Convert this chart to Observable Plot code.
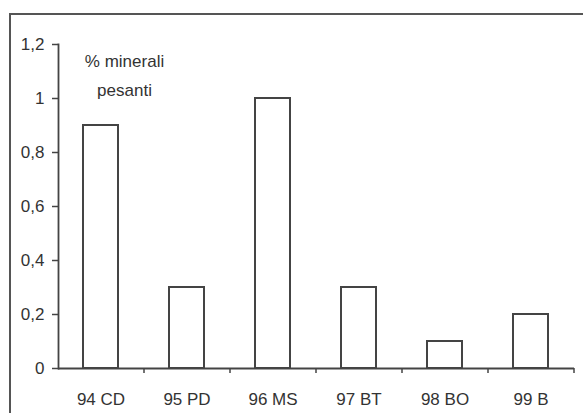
<!DOCTYPE html>
<html>
<head>
<meta charset="utf-8">
<script src="https://cdn.jsdelivr.net/npm/d3@7"></script>
<script src="https://cdn.jsdelivr.net/npm/@observablehq/plot@0.6"></script>
<style>
  html, body { margin: 0; padding: 0; background: #fff; overflow: hidden; }
  #wrap { position: relative; width: 583px; height: 413px; }
  #border { position: absolute; left: 9px; top: 13px; width: 700px; height: 600px;
            border-left: 2px solid #555; border-top: 2px solid #555; }
  #chart { position: absolute; left: 0; top: 0; }
</style>
</head>
<body>
<div id="wrap"><div id="border"></div><div id="chart"></div></div>
<script>
const categories = ["94 CD", "95 PD", "96 MS", "97 BT", "98 BO", "99 B"];
const values = [0.9, 0.3, 1.0, 0.3, 0.1, 0.2];
const yTicks = [0, 0.2, 0.4, 0.6, 0.8, 1.0, 1.2];
const titleLines = ["% minerali", "pesanti"];

const data = categories.map((c, i) => ({cat: c, value: values[i]}));
const fmt = d => String(d).replace(".", ",");
const ink = "#333";

const plot = Plot.plot({
  width: 583,
  height: 413,
  marginLeft: 58,
  marginRight: 9,
  marginTop: 44,
  marginBottom: 45,
  style: {fontFamily: "'Liberation Sans', Arial, sans-serif", fontSize: "17px", color: ink, background: "transparent"},
  x: {domain: categories, paddingInner: 0.59, paddingOuter: 0.295, label: null},
  y: {domain: [0, 1.2], label: null},
  marks: [
    Plot.barY(data, {x: "cat", y: "value", fill: "white", stroke: "#444", strokeWidth: 2}),
    Plot.ruleY([0], {stroke: "#444", strokeWidth: 1.8}),
    Plot.frame({anchor: "left", stroke: "#444", strokeWidth: 1.8}),
    Plot.axisY({ticks: yTicks, tickFormat: fmt, tickSize: 6, tickPadding: 8, stroke: "#444", strokeWidth: 1.5, label: null}),
    Plot.axisX({tickSize: 0, tickPadding: 24, label: null}),
    Plot.axisX({tickSize: 5, dx: 43, text: null, label: null, stroke: "#444", strokeWidth: 1.5}),
    Plot.text([titleLines.join("\n")], {frameAnchor: "top-left", dx: 66, dy: 28, textAnchor: "middle", lineAnchor: "middle", lineHeight: 1.7, fill: ink})
  ]
});
document.getElementById("chart").appendChild(plot);
</script>
</body>
</html>
